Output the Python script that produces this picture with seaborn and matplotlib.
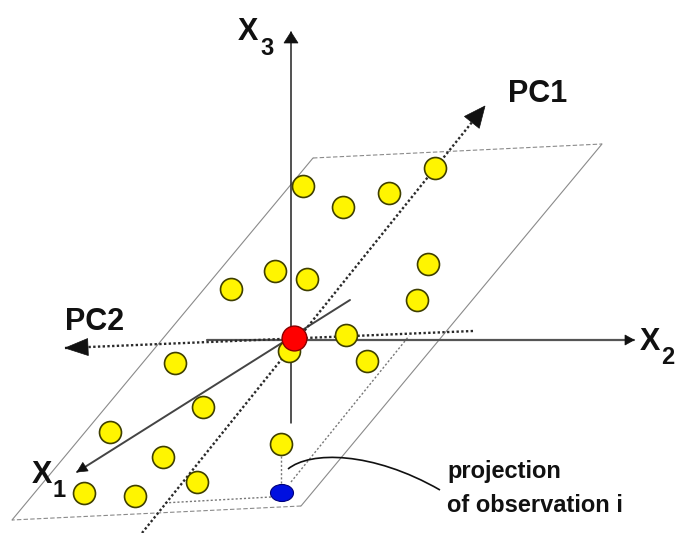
import numpy as np
import pandas as pd
import matplotlib
matplotlib.use("Agg")
import matplotlib.pyplot as plt
import seaborn as sns
from matplotlib.patches import Polygon, Ellipse, PathPatch
from matplotlib.path import Path

# Observations in the drawing plane (x to the right, y downward)
obs_x = [303, 343, 389, 435, 275, 307, 231, 428, 417, 346,
         367, 289, 175, 203, 110, 163, 197, 84, 135, 281]
obs_y = [186, 207, 193, 168, 271, 279, 289, 264, 300, 335,
         361, 351, 363, 407, 432, 457, 482, 493, 496, 444]

centroid = [294, 338]
projected = [282, 493]          # projection of observation i onto the plane
observation_i = [281, 444]

# original variable axes: (tail, tip)
x1_axis = [(350, 300), (77, 472)]
x2_axis = [(207, 340), (634, 340)]
x3_axis = [(291, 423), (291, 32)]

# principal component axes: (tail, tip)
pc1_axis = [(142, 533), (485, 106)]
pc2_axis = [(473, 331), (65, 348)]

# plane spanned by PC1 and PC2
plane_corners = [(313, 158), (602, 144), (301, 506), (12, 520)]

# projection guide lines
to_pc1 = [(271, 497), (163, 503)]
to_pc2 = [(291, 482), (409, 336)]
drop_line = [(281, 456), (281, 485)]

# leader curve for the annotation (cubic Bezier control points)
leader = [(288, 469), (310, 451), (372, 451), (440, 490)]

axis_labels = ["X", "X", "X"]
axis_subs = ["1", "2", "3"]
pc_labels = ["PC1", "PC2"]
note_lines = ["projection", "of observation i"]

sns.set_theme(style="white")
plt.rcParams["font.family"] = ["Liberation Sans", "DejaVu Sans"]

fig = plt.figure(figsize=(6.78, 5.33), dpi=100)
ax = fig.add_axes([0, 0, 1, 1])


def arrow_head(tail, tip, length, width, color, z=5):
    t = np.array(tip, float)
    s = np.array(tail, float)
    d = (t - s) / np.linalg.norm(t - s)
    n = np.array([-d[1], d[0]])
    base = t - d * length
    pts = [t, base + n * width / 2, base - n * width / 2]
    ax.add_patch(Polygon(pts, closed=True, facecolor=color,
                         edgecolor=color, lw=0.5, zorder=z))


def segment(pts, **kw):
    xs = [p[0] for p in pts]
    ys = [p[1] for p in pts]
    ax.plot(xs, ys, **kw)


# plane outline
c = plane_corners
segment([c[0], c[1]], color="#8a8a8a", lw=0.8, ls=(0, (4, 2)), zorder=1)
segment([c[1], c[2]], color="#8a8a8a", lw=0.8, zorder=1)
segment([c[2], c[3]], color="#8a8a8a", lw=0.8, ls=(0, (4, 2)), zorder=1)
segment([c[3], c[0]], color="#8a8a8a", lw=0.8, zorder=1)

# projection guides
for g in (to_pc1, to_pc2, drop_line):
    segment(g, color="#777777", lw=1.0, ls=(0, (1.5, 1.5)), zorder=1)

# original axes
segment(x3_axis, color="#222222", lw=1.1, zorder=2)
arrow_head(*x3_axis, length=11, width=14, color="#111111")
segment(x2_axis, color="#555555", lw=1.6, zorder=2)
arrow_head(*x2_axis, length=9, width=10, color="#111111")
segment(x1_axis, color="#444444", lw=1.4, zorder=2)
arrow_head(*x1_axis, length=10, width=10, color="#111111")

# principal components
segment(pc1_axis, color="#2a2a2a", lw=1.7, ls=(0, (1, 1)), zorder=2)
arrow_head(*pc1_axis, length=21, width=19, color="#111111")
segment(pc2_axis, color="#2a2a2a", lw=1.7, ls=(0, (1, 1)), zorder=2)
arrow_head(*pc2_axis, length=23, width=17, color="#111111")

# observations
obs = pd.DataFrame({"x": obs_x, "y": obs_y})
sns.scatterplot(data=obs, x="x", y="y", ax=ax, s=250, color="#FFF500",
                edgecolor="#3f3f00", linewidth=1.2, zorder=3, legend=False)
sns.scatterplot(x=[centroid[0]], y=[centroid[1]], ax=ax, s=320,
                color="#FF0000", edgecolor="#880000", linewidth=1.0,
                zorder=4, legend=False)
ax.add_patch(Ellipse(projected, width=23, height=17, facecolor="#0010E0",
                     edgecolor="#00007a", lw=0.8, zorder=4))

# leader curve
ax.add_patch(PathPatch(Path(leader, [Path.MOVETO, Path.CURVE4,
                                     Path.CURVE4, Path.CURVE4]),
                       facecolor="none", edgecolor="#111111", lw=1.2,
                       zorder=2))

# labels
bold = dict(fontweight="bold", color="#111111", va="baseline", ha="left")
label_pos = [(32, 483), (640, 350), (238, 40)]
sub_pos = [(53, 497), (661, 364), (260, 55)]
for lab, sub, p, q in zip(axis_labels, axis_subs, label_pos, sub_pos):
    ax.text(p[0], p[1], lab, fontsize=22, **bold)
    ax.text(q[0], q[1], sub, fontsize=17, **bold)

ax.text(508, 102, pc_labels[0], fontsize=22, **bold)
ax.text(65, 330, pc_labels[1], fontsize=22, **bold)

ax.text(447, 478, note_lines[0], fontsize=17, **bold)
ax.text(447, 512, note_lines[1], fontsize=17, **bold)

ax.set_xlim(0, 678)
ax.set_ylim(533, 0)
ax.axis("off")

fig.savefig("out.png", dpi=100, facecolor="white")
